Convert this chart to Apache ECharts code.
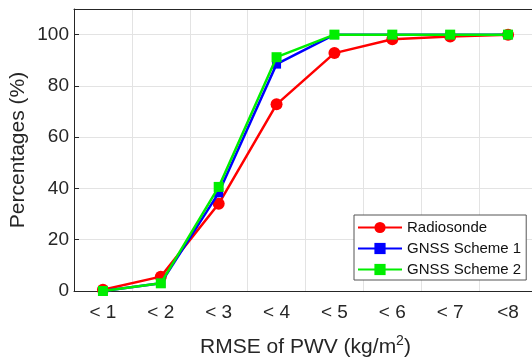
<!DOCTYPE html>
<html><head><meta charset="utf-8">
<script src="https://cdn.jsdelivr.net/npm/echarts@6/dist/echarts.min.js"></script>
<style>html,body{margin:0;padding:0;background:#fff}#c{width:532px;height:358px}</style>
</head><body><div id="c"></div>
<script>
const categories = ['< 1','< 2','< 3','< 4','< 5','< 6','< 7','<8'];
const radiosonde = [0.5, 5.6, 34, 72.8, 92.8, 98.2, 99.3, 100];
const gnss1 = [0, 3, 38.3, 88.5, 100, 100, 100, 100];
const gnss2 = [0, 3, 40.6, 91.2, 100, 100, 100, 100];
const yTicks = [0, 20, 40, 60, 80, 100];

const font = 'Liberation Sans, Arial, Helvetica, sans-serif';
const axisCol = '#262626';
const chart = echarts.init(document.getElementById('c'), null, {renderer:'canvas'});
chart.setOption({
  animation:false,
  backgroundColor:'#fff',
  grid:{left:74, top:9, width:463, height:282, containLabel:false, outerBoundsMode:'none'},
  xAxis:[{
    type:'category', data:categories, boundaryGap:true,
    name:'{a|RMSE of PWV (kg/m}{s|2}{a|)}', nameLocation:'middle', nameGap:43,
    nameTextStyle:{fontFamily:font, fontSize:21, color:axisCol,
      rich:{a:{fontFamily:font, fontSize:21, color:axisCol, verticalAlign:'bottom', lineHeight:24},
            s:{fontFamily:font, fontSize:14, color:axisCol, verticalAlign:'top', lineHeight:24, padding:[0,0,10,0]}}},
    axisLine:{lineStyle:{color:axisCol, width:1}},
    axisTick:{inside:true, alignWithLabel:true, length:5, lineStyle:{color:axisCol}},
    axisLabel:{fontFamily:font, fontSize:19, color:axisCol, margin:12},
    splitLine:{show:true, interval:0, lineStyle:{color:'#e3e3e3'}}
  },{
    type:'category', data:categories, boundaryGap:true, position:'top',
    axisLine:{lineStyle:{color:axisCol, width:1}},
    axisTick:{inside:true, alignWithLabel:true, length:5, lineStyle:{color:axisCol}},
    axisLabel:{show:false}, splitLine:{show:false}
  }],
  yAxis:[{
    type:'value', min:0, max:110, interval:20,
    name:'Percentages (%)', nameLocation:'middle', nameGap:45, nameMoveOverlap:false,
    nameTextStyle:{fontFamily:font, fontSize:21, color:axisCol},
    axisLine:{show:true, lineStyle:{color:axisCol, width:1}},
    axisTick:{show:true, inside:true, length:5, lineStyle:{color:axisCol}},
    axisLabel:{fontFamily:font, fontSize:19, color:axisCol, margin:5, showMaxLabel:false,
      formatter:v => yTicks.indexOf(v) >= 0 ? String(v) : ''},
    splitLine:{show:true, lineStyle:{color:'#e3e3e3'}}
  }],
  legend:{
    orient:'vertical', left:354, top:215,
    backgroundColor:'#fff', borderColor:'#555', borderWidth:1,
    padding:[5,5,3,3], itemGap:6, itemWidth:44, itemHeight:14,
    textStyle:{fontFamily:font, fontSize:15, color:'#111'},
    data:['Radiosonde','GNSS Scheme 1','GNSS Scheme 2']
  },
  series:[
    {name:'Radiosonde', type:'line', data:radiosonde, color:'#ff0000',
     symbol:'circle', symbolSize:12, lineStyle:{width:2.5}, z:2},
    {name:'GNSS Scheme 1', type:'line', data:gnss1, color:'#0000ff',
     symbol:'rect', symbolSize:9, lineStyle:{width:2.5}, z:3},
    {name:'GNSS Scheme 2', type:'line', data:gnss2, color:'#00ee00',
     symbol:'rect', symbolSize:10, lineStyle:{width:2.5}, z:4}
  ]
});
</script></body></html>
